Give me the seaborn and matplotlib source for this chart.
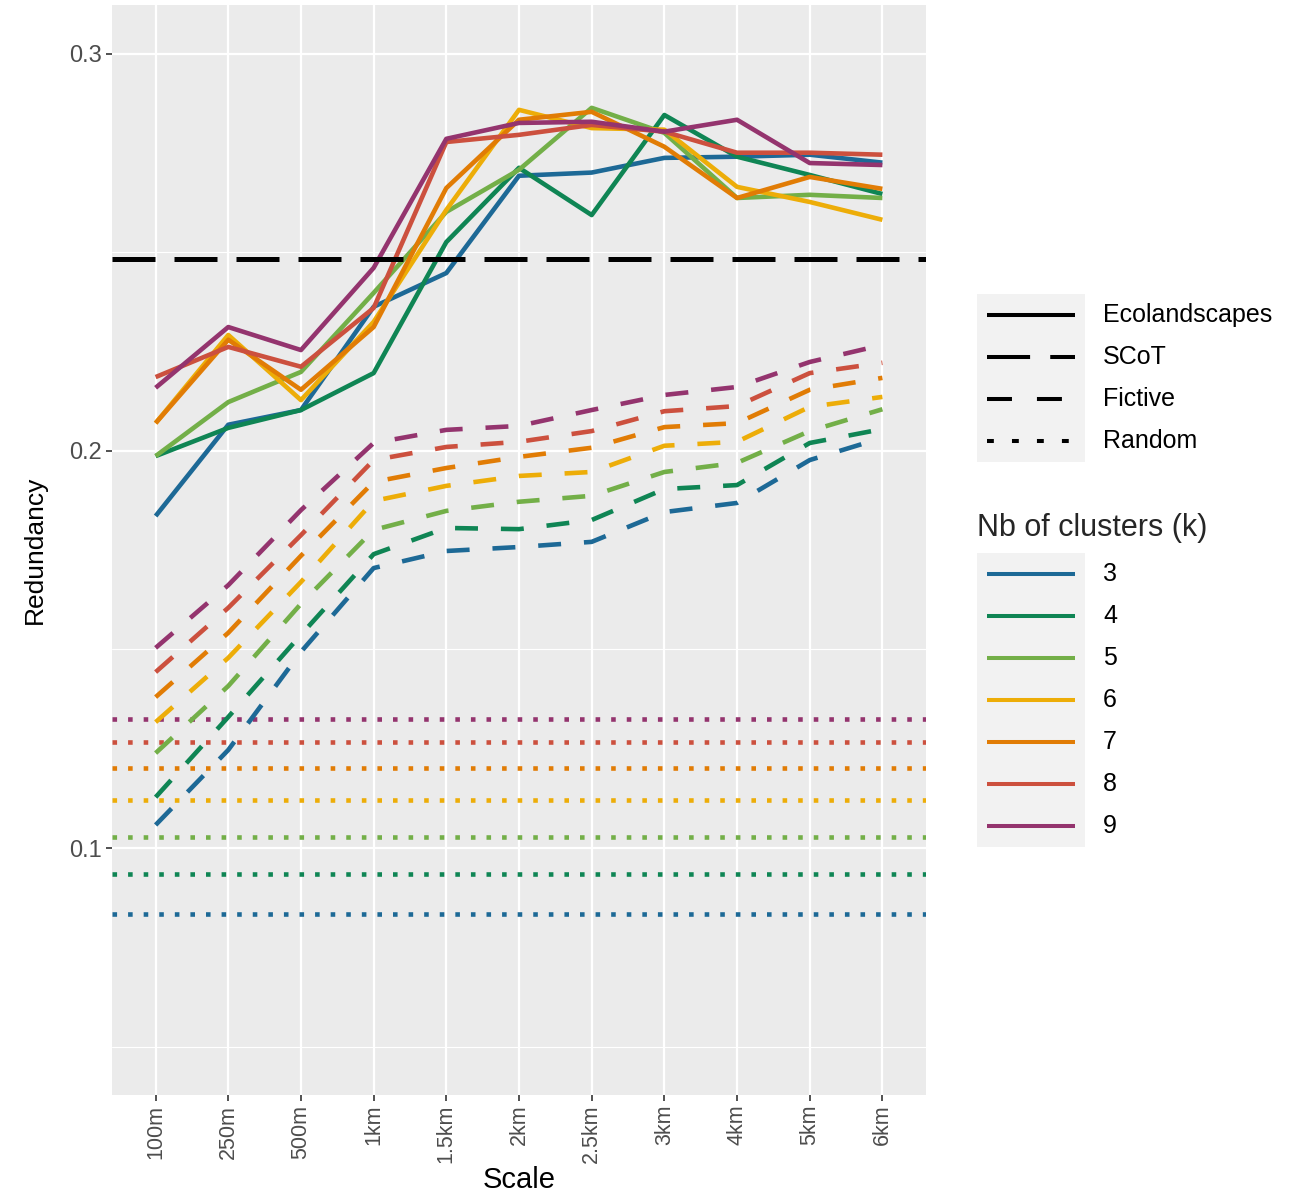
"""
Redundancy vs scale for Ecolandscapes / SCoT / Fictive / Random, by number of clusters.
"""

import numpy as np
import pandas as pd
import matplotlib
matplotlib.use("Agg")
import matplotlib.pyplot as plt
from matplotlib.lines import Line2D
from matplotlib.patches import Rectangle
from matplotlib.ticker import FixedLocator
import seaborn as sns

# ---- data ----
scales = ["100m", "250m", "500m", "1km", "1.5km", "2km", "2.5km", "3km", "4km", "5km", "6km"]
clusters = [3, 4, 5, 6, 7, 8, 9]
palette = ["#1D6996", "#0F8554", "#73AF48", "#EDAD08", "#E17C05", "#CC503E", "#94346E"]

eco_k3 = [0.1836, 0.2066, 0.2103, 0.2363, 0.2448, 0.2693, 0.2701, 0.2738, 0.2741, 0.2746, 0.2726]
eco_k4 = [0.1987, 0.2058, 0.2103, 0.2196, 0.2526, 0.2713, 0.2594, 0.2846, 0.2741, 0.2695, 0.2647]
eco_k5 = [0.1987, 0.2123, 0.2199, 0.2398, 0.2602, 0.2708, 0.2864, 0.2801, 0.2637, 0.2645, 0.2637]
eco_k6 = [0.2070, 0.2292, 0.2128, 0.2325, 0.2607, 0.2859, 0.2813, 0.2809, 0.2665, 0.2627, 0.2582]
eco_k7 = [0.2070, 0.2280, 0.2154, 0.2312, 0.2662, 0.2834, 0.2854, 0.2766, 0.2637, 0.2690, 0.2660]
eco_k8 = [0.2186, 0.2262, 0.2212, 0.2360, 0.2778, 0.2796, 0.2821, 0.2804, 0.2751, 0.2751, 0.2746]
eco_k9 = [0.2159, 0.2312, 0.2254, 0.2461, 0.2786, 0.2826, 0.2829, 0.2804, 0.2834, 0.2725, 0.2720]

fic_k3 = [0.1058, 0.1247, 0.1494, 0.1705, 0.1748, 0.1758, 0.1771, 0.1846, 0.1869, 0.1977, 0.2033]
fic_k4 = [0.1128, 0.1330, 0.1537, 0.1740, 0.1806, 0.1803, 0.1826, 0.1904, 0.1914, 0.2020, 0.2055]
fic_k5 = [0.1239, 0.1408, 0.1615, 0.1801, 0.1849, 0.1872, 0.1887, 0.1947, 0.1970, 0.2050, 0.2105]
fic_k6 = [0.1317, 0.1479, 0.1670, 0.1874, 0.1912, 0.1937, 0.1947, 0.2013, 0.2023, 0.2111, 0.2136]
fic_k7 = [0.1380, 0.1542, 0.1736, 0.1922, 0.1957, 0.1985, 0.2008, 0.2060, 0.2070, 0.2154, 0.2184]
fic_k8 = [0.1443, 0.1605, 0.1788, 0.1977, 0.2010, 0.2023, 0.2050, 0.2100, 0.2113, 0.2196, 0.2222]
fic_k9 = [0.1504, 0.1662, 0.1851, 0.2020, 0.2053, 0.2063, 0.2103, 0.2141, 0.2161, 0.2224, 0.2267]

random_vals = [0.0834, 0.0935, 0.1028, 0.1121, 0.1202, 0.1267, 0.1325]
scot_val = 0.2484

methods = ["Ecolandscapes", "SCoT", "Fictive", "Random"]

# ---- long table for seaborn ----
eco = [eco_k3, eco_k4, eco_k5, eco_k6, eco_k7, eco_k8, eco_k9]
fic = [fic_k3, fic_k4, fic_k5, fic_k6, fic_k7, fic_k8, fic_k9]
rows = []
for method, series in [("Ecolandscapes", eco), ("Fictive", fic)]:
    for k, vals in zip(clusters, series):
        for pos, (s, v) in enumerate(zip(scales, vals)):
            rows.append({"pos": pos, "scale": s, "k": k, "method": method, "redundancy": v})
df = pd.DataFrame(rows)

# ---- style ----
W, H = 1310, 1199
sns.set_theme(style="darkgrid", rc={
    "axes.facecolor": "#EBEBEB",
    "grid.color": "white",
    "axes.edgecolor": "#EBEBEB",
})
plt.rcParams["font.family"] = ["Liberation Sans", "DejaVu Sans"]

fig = plt.figure(figsize=(W / 100, H / 100), dpi=100)
fig.patch.set_facecolor("white")


def fx(px):
    return px / W


def fy(py):
    return 1 - py / H


ax = fig.add_axes([fx(112), fy(1095), (926 - 112) / W, (1095 - 5) / H])

LW = 3.3
# Random baselines (dotted) and SCoT (long dash)
for k, v, c in zip(clusters, random_vals, palette):
    ax.axhline(v, color=c, lw=LW, linestyle=(0, (1, 2.4)), dash_capstyle="butt", zorder=2)

sns.lineplot(
    data=df, x="pos", y="redundancy", hue="k", style="method",
    palette=palette, dashes={"Ecolandscapes": "", "Fictive": (5, 5)},
    estimator=None, sort=False, legend=False, lw=LW, ax=ax, zorder=3,
)
for line in ax.get_lines():
    line.set_solid_capstyle("butt")
    line.set_dash_capstyle("butt")

ax.axhline(scot_val, color="black", lw=3.6, linestyle=(0, (8.6, 3.8)),
           dash_capstyle="butt", zorder=4)

# ---- axes ----
ax.set_xlim(-0.6, len(scales) - 0.4)
ax.set_ylim(0.0378, 0.3123)
ax.set_xticks(range(len(scales)))
ax.set_xticklabels(scales, rotation=90, fontsize=15.5, color="#4D4D4D")
ax.set_yticks([0.1, 0.2, 0.3])
ax.set_yticklabels(["0.1", "0.2", "0.3"], fontsize=17, color="#4D4D4D")
ax.yaxis.set_minor_locator(FixedLocator([0.05, 0.15, 0.25]))
ax.grid(True, which="major", color="white", lw=1.6)
ax.grid(True, which="minor", axis="y", color="white", lw=0.8)
ax.tick_params(axis="both", which="major", length=4, width=1.2, color="#333333",
               bottom=True, left=True, pad=3)
ax.tick_params(axis="y", which="minor", length=0)
for sp in ax.spines.values():
    sp.set_visible(False)
ax.set_xlabel("Scale", fontsize=21, color="black", labelpad=2)
ax.set_ylabel("Redundancy", fontsize=19, color="black", labelpad=16)

# ---- legends (ggplot-like, with grey key column) ----
key_x0, key_x1 = 977, 1085
row_h = 42
lt_rows = [315, 357, 399, 441]
lt_styles = ["-", (0, (10.7, 5)), (0, (6.2, 6.2)), (0, (1.7, 4.5))]
fig.patches.append(Rectangle((fx(key_x0), fy(lt_rows[-1] + row_h / 2)), (key_x1 - key_x0) / W,
                             len(lt_rows) * row_h / H, transform=fig.transFigure,
                             facecolor="#F2F2F2", edgecolor="none"))
for y, name, ls in zip(lt_rows, methods, lt_styles):
    fig.lines.append(Line2D([fx(987), fx(1075)], [fy(y), fy(y)], transform=fig.transFigure,
                            color="black", lw=2.9, linestyle=ls, dash_capstyle="butt",
                            solid_capstyle="butt"))
    fig.text(fx(1103), fy(y), name, fontsize=18, va="center", ha="left", color="black")

fig.text(fx(977), fy(528), "Nb of clusters (k)", fontsize=22, va="center", ha="left")
k_rows = [574 + i * row_h for i in range(len(clusters))]
fig.patches.append(Rectangle((fx(key_x0), fy(k_rows[-1] + row_h / 2)), (key_x1 - key_x0) / W,
                             len(k_rows) * row_h / H, transform=fig.transFigure,
                             facecolor="#F2F2F2", edgecolor="none"))
for y, k, c in zip(k_rows, clusters, palette):
    fig.lines.append(Line2D([fx(987), fx(1075)], [fy(y), fy(y)], transform=fig.transFigure,
                            color=c, lw=2.9, solid_capstyle="butt"))
    fig.text(fx(1103), fy(y), str(k), fontsize=18, va="center", ha="left", color="black")

fig.savefig("out.png", dpi=100)
plt.close(fig)
